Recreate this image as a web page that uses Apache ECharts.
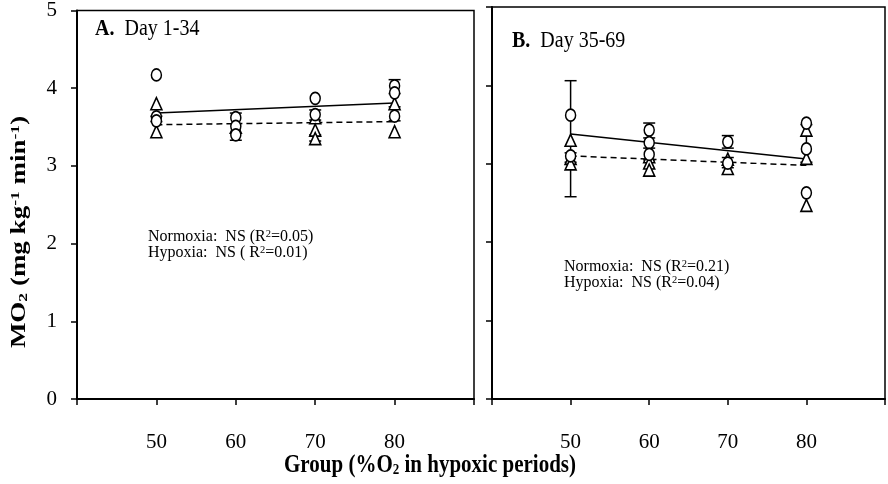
<!DOCTYPE html>
<html><head><meta charset="utf-8">
<script src="https://cdn.jsdelivr.net/npm/echarts@6/dist/echarts.min.js"></script>
<style>html,body{margin:0;padding:0;background:#fff}#c{width:888px;height:484px}</style>
</head><body><div id="c"></div>
<script>
// ---- data ----
const xTickLabels = [50, 60, 70, 80];
const yTickValues = [0, 1, 2, 3, 4, 5];

// Panel A (Day 1-34)
const aNormoxia = [[50,4.17],[50,3.63],[50,3.58],[60,3.62],[60,3.51],[60,3.40],[70,3.87],[70,3.66],[80,4.03],[80,3.94],[80,3.64]];
const aHypoxia  = [[50,3.80],[50,3.44],[60,3.50],[70,3.62],[70,3.46],[70,3.35],[80,3.80],[80,3.44]];
const aNormLine = [[50,3.68],[80,3.81]];
const aHypLine  = [[50,3.53],[80,3.57]];
const aErrors   = [[50,3.57,3.64],[60,3.33,3.68],[70,3.59,3.72],[70,3.32,3.40],[80,3.93,4.11],[80,3.58,3.76]];

// Panel B (Day 35-69)
const bNormoxia = [[50,3.62],[50,3.10],[60,3.43],[60,3.27],[60,3.12],[70,3.28],[70,3.01],[80,3.52],[80,3.19],[80,2.63]];
const bHypoxia  = [[50,3.30],[50,3.07],[50,3.00],[60,3.09],[60,3.01],[60,2.92],[70,3.06],[70,2.94],[80,3.43],[80,3.07],[80,2.47]];
const bNormLine = [[50,3.38],[80,3.06]];
const bHypLine  = [[50,3.10],[80,2.98]];
const bErrors   = [[50,2.58,4.06],[50,3.02,3.14],[60,3.33,3.52],[60,3.05,3.20],[70,3.20,3.36],[70,2.95,3.08],[80,3.02,3.50]];

const panelTitles = [['A.', 'Day 1-34'], ['B.', 'Day 35-69']];
const statsA = ['Normoxia:  NS (R{sup|2}=0.05)', 'Hypoxia:  NS ( R{sup|2}=0.01)'];
const statsB = ['Normoxia:  NS (R{sup|2}=0.21)', 'Hypoxia:  NS (R{sup|2}=0.04)'];

// ---- chart ----
const FONT = '"Liberation Serif", "Times New Roman", serif';
const chart = echarts.init(document.getElementById('c'), null, {renderer: 'canvas'});

function xAxisCfg(gi) {
  return {
    type: 'value', gridIndex: gi, min: 40, max: 90, interval: 10,
    axisLine: {show: true, onZero: false, lineStyle: {color: '#000', width: 2}},
    axisTick: {show: true, inside: false, length: 6, lineStyle: {color: '#000', width: 1.5}},
    axisLabel: {margin: 33, fontSize: 21, fontFamily: FONT, color: '#000',
      formatter: v => xTickLabels.includes(v) ? String(v) : ''},
    splitLine: {show: false}
  };
}
function yAxisCfg(gi, showLabels) {
  return {
    type: 'value', gridIndex: gi, min: yTickValues[0], max: yTickValues[yTickValues.length - 1], interval: 1,
    axisLine: {show: true, onZero: false, lineStyle: {color: '#000', width: 2}},
    axisTick: {show: true, inside: false, length: 6, lineStyle: {color: '#000', width: 1.5}},
    axisLabel: {show: showLabels, margin: 20, fontSize: 21, fontFamily: FONT, color: '#000'},
    splitLine: {show: false}
  };
}
function errSeries(gi, data) {
  return {
    type: 'custom', xAxisIndex: gi, yAxisIndex: gi, data: data, z: 2,
    encode: {x: 0, y: [1, 2]},
    renderItem: function (params, api) {
      const x = api.value(0), lo = api.value(1), hi = api.value(2);
      const p1 = api.coord([x, hi]), p2 = api.coord([x, lo]);
      const w = 6;
      const st = {stroke: '#000', lineWidth: 1.5};
      return {type: 'group', children: [
        {type: 'line', shape: {x1: p1[0], y1: p1[1], x2: p2[0], y2: p2[1]}, style: st},
        {type: 'line', shape: {x1: p1[0] - w, y1: p1[1], x2: p1[0] + w, y2: p1[1]}, style: st},
        {type: 'line', shape: {x1: p2[0] - w, y1: p2[1], x2: p2[0] + w, y2: p2[1]}, style: st}
      ]};
    }
  };
}
function lineSeries(gi, data, dashed) {
  return {type: 'line', xAxisIndex: gi, yAxisIndex: gi, data: data, showSymbol: false, symbol: 'none', z: 3,
    lineStyle: {color: '#000', width: 1.5, type: dashed ? [6, 4] : 'solid'}, animation: false};
}
function scatterSeries(gi, data, symbol, size, z) {
  return {type: 'scatter', xAxisIndex: gi, yAxisIndex: gi, data: data, symbol: symbol, symbolSize: size, z: z,
    itemStyle: {color: '#fff', borderColor: '#000', borderWidth: 1.6, opacity: 1}};
}

const baseRich = {
  t: {fontFamily: FONT, fontSize: 16, color: '#000', lineHeight: 15},
  sup: {fontFamily: FONT, fontSize: 10.5, color: '#000', lineHeight: 4, padding: [0, 0, 6, 0]}
};
function statText(x, y, lines) {
  return {type: 'text', x: x, y: y, scaleY: 1.06, style: {
    text: lines.map(l => '{t|' + l.replace(/\{sup\|2\}/g, '}{sup|2}{t|') + '}').join('\n'),
    rich: baseRich, fill: '#000', textAlign: 'left', textVerticalAlign: 'top'
  }};
}
function panelTitle(x, y, t) {
  return {type: 'text', x: x, y: y, scaleY: 1.15, style: {
    text: '{b|' + t[0] + '}{n|  ' + t[1] + '}',
    rich: {
      b: {fontFamily: FONT, fontSize: 20, fontWeight: 'bold', color: '#000'},
      n: {fontFamily: FONT, fontSize: 20, color: '#000'}
    }, textAlign: 'left', textVerticalAlign: 'middle'
  }};
}

const boldRich = {
  b: {fontFamily: FONT, fontSize: 21, fontWeight: 'bold', color: '#000'},
  sub: {fontFamily: FONT, fontSize: 13, fontWeight: 'bold', color: '#000', padding: [8, 0, 0, 0]},
  sup: {fontFamily: FONT, fontSize: 13, fontWeight: 'bold', color: '#000', padding: [0, 0, 9, 0]}
};
const yTitleRich = {
  b: {fontFamily: FONT, fontSize: 20, fontWeight: 'bold', color: '#000'},
  sub: {fontFamily: FONT, fontSize: 13, fontWeight: 'bold', color: '#000', padding: [8, 0, 0, 0]},
  sup: {fontFamily: FONT, fontSize: 13, fontWeight: 'bold', color: '#000', padding: [0, 0, 9, 0]}
};

chart.setOption({
  animation: false,
  backgroundColor: '#fff',
  grid: [
    {left: 77, top: 10, width: 397, height: 389, show: true, borderColor: '#000', borderWidth: 1.5, backgroundColor: 'transparent'},
    {left: 492, top: 7, width: 393, height: 392, show: true, borderColor: '#000', borderWidth: 1.5, backgroundColor: 'transparent'}
  ],
  xAxis: [xAxisCfg(0), xAxisCfg(1)],
  yAxis: [yAxisCfg(0, true), yAxisCfg(1, false)],
  series: [
    errSeries(0, aErrors),
    lineSeries(0, aNormLine, false),
    lineSeries(0, aHypLine, true),
    scatterSeries(0, aHypoxia, 'triangle', [11, 12], 4),
    scatterSeries(0, aNormoxia, 'circle', [10, 12], 5),
    errSeries(1, bErrors),
    lineSeries(1, bNormLine, false),
    lineSeries(1, bHypLine, true),
    scatterSeries(1, bHypoxia, 'triangle', [11, 12], 4),
    scatterSeries(1, bNormoxia, 'circle', [10, 12], 5)
  ],
  graphic: [
    panelTitle(95, 29, panelTitles[0]),
    panelTitle(512, 41, panelTitles[1]),
    statText(148, 229, statsA),
    statText(564, 259, statsB),
    {type: 'text', x: 20, y: 232, rotation: Math.PI / 2, scaleX: 1.35, style: {
      text: '{b|MO}{sub|2}{b| (mg kg}{sup|-1}{b| min}{sup|-1}{b|)}',
      rich: yTitleRich, textAlign: 'center', textVerticalAlign: 'middle'}},
    {type: 'text', x: 430, y: 466, scaleY: 1.15, style: {
      text: '{b|Group (%O}{sub|2}{b| in hypoxic periods)}',
      rich: boldRich, textAlign: 'center', textVerticalAlign: 'middle'}}
  ]
});
</script>
</body></html>
